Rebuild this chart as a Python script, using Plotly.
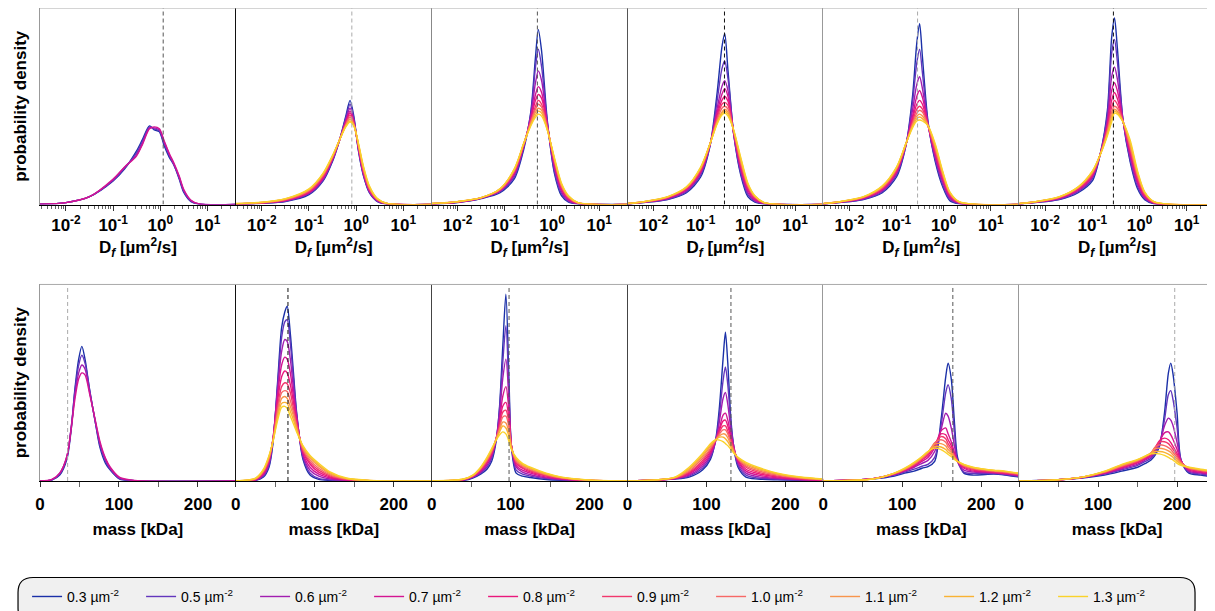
import plotly.graph_objects as go
from plotly.subplots import make_subplots

# ---------------- data ----------------
DENSITIES = ["0.3", "0.5", "0.6", "0.7", "0.8", "0.9", "1.0", "1.1", "1.2", "1.3"]
COLORS = ["#1b30a8", "#6336bd", "#a21db0", "#d41592", "#ea187c",
          "#f2376d", "#f76866", "#f8954c", "#f9b233", "#fad22a"]

TOP_TICKVALS = [0.01, 0.1, 1, 10]
TOP_TICKTEXT = ["10<sup>-2</sup>", "10<sup>-1</sup>", "10<sup>0</sup>", "10<sup>1</sup>"]
BOT_TICKVALS = [0, 100, 200]
BOT_TICKTEXT = ["0", "100", "200"]

# reference (dashed) positions
TOP_REF_D = [1.15, 0.81, 0.49, 0.32, 0.28, 0.28]
BOT_REF_MASS = [35, 66, 98, 131, 164, 197]

# ---- top row: log10(D) grids and densities (series order = DENSITIES) ----
T1_LOGD = [-2.55, -2, -1.5, -1, -0.76, -0.51, -0.38, -0.23, -0.13, -0.02, 0.08, 0.19, 0.29, 0.4, 0.5, 0.65, 0.82, 1.6]
T1_Y = [
    [0.2, 1, 4, 12, 18, 27, 33, 40, 38, 37, 30, 24, 20, 13, 6, 1.5, 0.2, 0],
    [0.2, 1, 4, 12.5, 18.5, 26, 32, 39.5, 38.5, 37.5, 31, 25, 20, 13.5, 6.5, 1.7, 0.2, 0],
    [0.2, 1, 4, 12.5, 19, 25, 31, 39, 39, 38, 32, 25.5, 20.5, 14, 7, 2, 0.3, 0],
    [0.2, 1, 4, 13, 19, 24.5, 30.5, 38.5, 39.5, 38.5, 32.5, 26, 21, 14.5, 7.5, 2.2, 0.3, 0],
]

T2_LOGD = [-2.55, -2, -1.5, -1, -0.7, -0.5, -0.35, -0.22, -0.13, -0.05, 0.05, 0.15, 0.28, 0.45, 0.65, 1.6]
T2_Y = [
    [0.2, 0.6, 1.5, 5, 12, 22, 33, 45, 53, 45, 27, 15, 6, 1.5, 0.3, 0],
    [0.25, 0.7, 1.7, 5.5, 12.5, 22.5, 33, 44, 51, 44, 27.5, 15.5, 6.3, 1.7, 0.35, 0],
    [0.3, 0.75, 1.9, 5.8, 13, 23, 33, 43, 49, 43, 28, 16, 6.7, 1.9, 0.4, 0],
    [0.3, 0.8, 2.1, 6.1, 13.5, 23.3, 33, 42.2, 47.5, 42.3, 28.5, 16.5, 7, 2.1, 0.4, 0],
    [0.35, 0.85, 2.2, 6.4, 14, 23.6, 33, 41.5, 46.5, 41.7, 29, 17, 7.4, 2.3, 0.45, 0],
    [0.35, 0.9, 2.4, 6.8, 14.5, 24, 33, 41, 45.5, 41.3, 29.5, 17.6, 7.8, 2.5, 0.5, 0],
    [0.4, 1, 2.5, 7.1, 15, 24.3, 33, 40.6, 44.5, 40.9, 30, 18.2, 8.3, 2.6, 0.5, 0],
    [0.4, 1.05, 2.7, 7.4, 15.3, 24.5, 33, 40.2, 43.5, 40.6, 30.3, 18.8, 8.7, 2.7, 0.55, 0],
    [0.45, 1.1, 2.8, 7.7, 15.7, 24.8, 33, 39.8, 42.5, 40.3, 30.6, 19.4, 9.1, 2.9, 0.6, 0],
    [0.5, 1.2, 3, 8, 16, 25, 33, 39.5, 42, 40, 31, 20, 9.5, 3, 0.6, 0],
]

T3_LOGD = [-2.55, -2.0, -1.5, -1.1, -0.8, -0.6, -0.45, -0.35, -0.29, -0.22, -0.1, 0.05, 0.2, 0.35, 0.55, 1.6]
T3_Y = [
    [0.2, 1, 3, 6, 13, 28, 47, 75, 89, 78, 43, 16, 4.5, 1.2, 0.3, 0],
    [0.3, 1.1, 3.2, 6.5, 14, 29, 46, 70, 79, 70, 42, 17, 5.5, 1.6, 0.4, 0],
    [0.3, 1.2, 3.3, 7, 15, 30, 45, 62, 68, 63, 41, 19, 6.5, 2, 0.5, 0],
    [0.4, 1.3, 3.3, 7, 16, 30, 44, 56, 60, 57, 40.5, 20, 7.5, 2.5, 0.6, 0],
    [0.4, 1.3, 3.4, 7.5, 16, 30, 43, 53, 56, 54, 40, 21, 8, 3, 0.7, 0],
    [0.4, 1.4, 3.4, 7.5, 17, 30.5, 42, 50, 53, 51, 39.5, 22, 9, 3.3, 0.8, 0],
    [0.4, 1.4, 3.5, 7.5, 17, 31, 42, 48.5, 51, 49.5, 39, 22.5, 9.5, 3.6, 0.8, 0],
    [0.5, 1.4, 3.5, 8, 17.5, 31, 41, 47, 49, 48, 38.5, 23, 10, 4, 0.9, 0],
    [0.5, 1.5, 3.5, 8, 18, 31, 40.5, 45.5, 47.5, 46.5, 38, 23.5, 10.5, 4.2, 1, 0],
    [0.5, 1.5, 3.5, 8, 18, 31, 40, 44.5, 46, 45, 38, 24, 11, 4.5, 1, 0],
]

T4_LOGD = [-2.55, -2.2, -1.7, -1.3, -1.0, -0.8, -0.65, -0.55, -0.49, -0.42, -0.3, -0.15, 0.0, 0.15, 0.35, 1.6]
T4_Y = [
    [0.3, 1, 2.5, 6, 14, 30, 57, 80, 87, 68, 36, 15, 4, 1.2, 0.3, 0],
    [0.3, 1.1, 2.7, 6.5, 15, 30, 53, 69, 73, 64, 36, 16, 5, 1.6, 0.4, 0],
    [0.3, 1.2, 3, 7, 16, 30.5, 49, 60, 63, 58, 36, 17.5, 6, 2, 0.5, 0],
    [0.4, 1.2, 3.2, 7.5, 16.5, 30.5, 47, 56, 59, 55, 36.5, 18.5, 7, 2.5, 0.6, 0],
    [0.4, 1.3, 3.4, 8, 17, 31, 45.5, 53, 55, 52.5, 37, 19.5, 8, 3, 0.7, 0],
    [0.4, 1.3, 3.6, 8.3, 17.5, 31, 44, 51, 52, 50.5, 37, 20.5, 8.8, 3.4, 0.8, 0],
    [0.4, 1.4, 3.7, 8.5, 18, 31, 43, 49, 50, 48.5, 37.5, 21.5, 9.5, 3.8, 0.85, 0],
    [0.5, 1.4, 3.8, 8.7, 18.5, 31, 42, 47, 48.5, 47, 37.5, 22.5, 10, 4.1, 0.9, 0],
    [0.5, 1.5, 3.9, 8.9, 18.7, 31, 41.5, 46.3, 47.5, 46, 37.8, 23.3, 10.5, 4.3, 0.95, 0],
    [0.5, 1.5, 4, 9, 19, 31, 41, 45.5, 46.5, 45, 38, 24, 11, 4.5, 1, 0],
]

T5_LOGD = [-2.55, -2.2, -1.7, -1.3, -1.0, -0.8, -0.66, -0.57, -0.51, -0.45, -0.33, -0.18, -0.02, 0.13, 0.33, 1.6]
T5_Y = [
    [0.3, 1, 2.5, 6, 14, 30, 55, 82, 92, 75, 42, 22, 9, 2, 0.4, 0],
    [0.3, 1.1, 2.7, 6.5, 15, 30, 52, 72, 79, 67, 41, 23, 10, 2.6, 0.5, 0],
    [0.3, 1.2, 3, 7, 16, 30.5, 48, 61, 65, 59, 40.5, 24, 11.5, 3.3, 0.7, 0],
    [0.4, 1.2, 3.2, 7.5, 16.5, 30.5, 45, 55, 58, 54.5, 40.5, 25.5, 12.5, 4, 0.8, 0],
    [0.4, 1.3, 3.4, 8, 17, 30.5, 43.5, 51, 53, 51, 40, 26.5, 13.5, 4.5, 0.9, 0],
    [0.4, 1.3, 3.6, 8.3, 17.5, 30.5, 42, 48.5, 50, 48.5, 40, 27.5, 14.3, 5, 1, 0],
    [0.4, 1.4, 3.7, 8.6, 18, 30.8, 41, 46.5, 48, 47, 40, 28.5, 15, 5.5, 1.1, 0],
    [0.5, 1.4, 3.8, 9, 18.5, 31, 40.3, 45, 46, 45, 40, 29.5, 15.8, 5.9, 1.3, 0],
    [0.5, 1.5, 3.9, 9.3, 18.8, 31, 39.6, 43.7, 44.5, 43.7, 40, 30.3, 16.4, 6.2, 1.4, 0],
    [0.5, 1.5, 4, 9.5, 19, 31, 39, 42.5, 43, 42.5, 40, 31, 17, 6.5, 1.5, 0],
]

T6_LOGD = [-2.55, -2.2, -1.7, -1.3, -1.0, -0.82, -0.68, -0.59, -0.53, -0.47, -0.35, -0.2, -0.04, 0.11, 0.31, 1.6]
T6_Y = [
    [0.3, 1, 2.5, 6, 12, 27, 48, 85, 95, 80, 43, 22, 8, 2.5, 0.4, 0],
    [0.3, 1.1, 2.7, 6.5, 13, 27, 46, 77, 84, 73, 43, 23, 9, 3, 0.5, 0],
    [0.3, 1.2, 3, 7, 14, 26.5, 43, 65, 70, 64, 43, 24.5, 10.5, 3.5, 0.7, 0],
    [0.4, 1.2, 3.2, 7.5, 14.5, 26.5, 41, 58, 62, 58, 42.5, 26, 11.5, 4, 0.8, 0],
    [0.4, 1.3, 3.4, 8, 15, 26.5, 39.5, 53, 57, 54, 42.5, 27.5, 12.5, 4.5, 0.9, 0],
    [0.4, 1.3, 3.6, 8.3, 15.5, 26.5, 38.5, 49.5, 53, 51, 42.5, 28.5, 13.5, 5, 1, 0],
    [0.4, 1.4, 3.7, 8.5, 16, 26.3, 37.5, 47, 50, 49, 42.3, 29.5, 14.5, 5.5, 1.1, 0],
    [0.5, 1.4, 3.8, 8.7, 16.5, 26.2, 36.5, 45, 48.5, 47.5, 42.2, 30.7, 15.3, 5.9, 1.3, 0],
    [0.5, 1.5, 3.9, 8.9, 16.8, 26.1, 35.7, 43.5, 47.5, 46.7, 42.1, 31.8, 16.2, 6.2, 1.4, 0],
    [0.5, 1.5, 4, 9, 17, 26, 35, 42, 46.5, 46, 42, 33, 17, 6.5, 1.5, 0],
]

# ---- bottom row: mass grids [kDa] and densities ----
B1_MASS = [0, 15, 25, 34, 40, 44, 49, 53, 57, 63, 70, 76, 83, 89, 101, 120, 248]
B1_Y = [
    [0, 0.5, 3, 11, 28, 46, 62, 68.5, 62, 46, 30, 17, 9, 5.6, 1, 0.2, 0],
    [0, 0.6, 3.5, 12, 29, 45, 59, 64, 60, 46, 30, 18, 10, 6, 1.2, 0.2, 0],
    [0, 0.7, 4, 12.5, 29, 43, 55, 59, 57, 45, 30.5, 19, 11, 6.5, 1.5, 0.2, 0],
    [0, 0.8, 4, 12.5, 28, 41, 52, 55, 54, 44, 31, 20, 11.5, 7, 1.8, 0.3, 0],
]

B2_MASS = [0, 25, 35, 42, 47, 53, 58, 62, 65, 69, 73, 77, 85, 94, 105, 120, 140, 170, 248]
B2_Y = [
    [0, 0.3, 2, 7, 19, 51, 78, 86, 89, 75, 55, 35, 11, 3, 0.8, 0.3, 0.1, 0, 0],
    [0, 0.4, 2.5, 8, 20, 49, 73, 81, 82, 70, 52, 34, 12, 4, 1.3, 0.5, 0.2, 0, 0],
    [0, 0.5, 3, 9, 21, 47, 66, 72, 71, 62, 47, 33, 13, 5.5, 2.5, 1, 0.3, 0.05, 0],
    [0, 0.6, 3.5, 10, 21.5, 44, 59, 63, 62, 55, 43, 32, 14, 7, 3.5, 1.5, 0.5, 0.1, 0],
    [0, 0.8, 4, 10.5, 21, 41, 53, 56, 55, 49, 40, 30, 15, 8.5, 4.5, 2, 0.7, 0.1, 0],
    [0, 0.9, 4.5, 11, 21, 38, 48, 50, 49.5, 45, 37, 29, 15.5, 9.5, 5.5, 2.5, 0.8, 0.15, 0],
    [0, 1, 5, 11.5, 20.5, 36, 45, 46, 45.5, 41, 35, 28, 16, 10.5, 6.5, 3, 1, 0.2, 0],
    [0, 1.2, 5.3, 12, 20.5, 34, 42, 43, 42, 38, 33, 27, 17, 11.5, 7.5, 3.5, 1.2, 0.2, 0],
    [0, 1.3, 5.6, 12.5, 20, 32.5, 39.5, 40, 39.5, 35.5, 31, 26, 17.5, 12.5, 8.2, 4, 1.3, 0.25, 0],
    [0, 1.5, 6, 13, 20, 31, 37.5, 38, 37, 33, 29, 25, 18, 13, 9, 4.5, 1.5, 0.3, 0],
]

B3_MASS = [0, 40, 52, 62, 70, 76, 82, 86, 90, 94, 98, 101, 107, 115, 125, 145, 165, 200, 248]
B3_Y = [
    [0, 0.3, 1.5, 3.5, 6, 10, 21, 38, 68, 95, 50, 17.5, 4, 2.5, 1.8, 0.8, 0.4, 0.1, 0],
    [0, 0.4, 1.8, 4, 7, 11.5, 22, 37, 60, 79, 44, 18, 5.5, 3.5, 2.5, 1.2, 0.6, 0.15, 0],
    [0, 0.5, 2, 4.5, 8, 12.5, 22, 34, 52, 62, 40, 18, 7, 4.5, 3.2, 1.6, 0.8, 0.2, 0],
    [0, 0.6, 2.2, 5, 9, 13.5, 22, 31, 43, 48, 35, 18, 8, 5.5, 4, 2, 1, 0.25, 0],
    [0, 0.7, 2.4, 5.5, 9.5, 14, 22, 29, 38, 40, 31.5, 18, 9, 6.5, 4.6, 2.5, 1.2, 0.3, 0],
    [0, 0.75, 2.5, 5.8, 10, 14.5, 22, 28, 35, 36, 29, 18, 9.5, 7, 5.2, 2.8, 1.4, 0.35, 0],
    [0, 0.8, 2.6, 6.2, 10.5, 15, 22, 27, 32.5, 33, 27, 17.5, 10, 7.5, 5.7, 3.1, 1.5, 0.4, 0],
    [0, 0.85, 2.7, 6.5, 11, 15.5, 21.5, 26, 30, 29.5, 24.5, 17, 10.7, 8, 6.2, 3.4, 1.7, 0.4, 0],
    [0, 0.9, 2.8, 6.8, 11.5, 16, 21.3, 25, 28, 27, 22.5, 16.5, 11.3, 8.5, 6.6, 3.7, 1.8, 0.45, 0],
    [0, 1, 3, 7, 12, 16.5, 21, 23.5, 25, 24, 20, 16, 12, 9, 7, 4, 2, 0.5, 0],
]

B4_MASS = [0, 60, 78, 95, 105, 112, 116.5, 121, 124, 127, 131, 135, 140, 150, 165, 190, 220, 248]
B4_Y = [
    [0, 1, 2, 5.6, 11, 22, 38, 62, 75.7, 60, 31, 16, 7, 2, 1, 0.6, 0.4, 0.3],
    [0, 1.1, 2.5, 6.5, 12, 21, 34, 51, 58, 49, 29, 16.5, 8, 3, 1.5, 0.9, 0.5, 0.3],
    [0, 1.2, 3, 7.5, 13, 21, 30.5, 42, 45, 39, 26, 17, 9, 4, 2.2, 1.2, 0.6, 0.35],
    [0, 1.3, 3.5, 8.5, 14, 21, 27, 33.5, 34.5, 31, 23, 16, 10, 5, 3, 1.6, 0.8, 0.4],
    [0, 1.4, 4, 9.5, 15, 21, 26, 30.5, 31, 28, 22, 16, 10.5, 6, 3.8, 2, 1, 0.5],
    [0, 1.5, 4.5, 10.5, 16, 21, 25, 28, 28, 25.5, 20.5, 15.5, 11, 7, 4.5, 2.5, 1.2, 0.6],
    [0, 1.6, 5, 11.5, 16.5, 21, 24, 26, 26, 24, 19.5, 15, 11.2, 7.7, 5.2, 3, 1.4, 0.7],
    [0, 1.7, 5.7, 12.5, 17.5, 21, 23, 24, 23.7, 22, 18.3, 14.7, 11.5, 8.3, 5.9, 3.4, 1.6, 0.8],
    [0, 1.8, 6.3, 13.3, 18.3, 21.2, 22.3, 22.3, 21.5, 20, 17.2, 14.3, 11.8, 8.9, 6.5, 3.7, 1.8, 0.9],
    [0, 2, 7, 14, 19, 21, 20.8, 20, 19, 18, 16, 14, 12, 9.5, 7, 4, 2, 1],
]

B5_MASS = [0, 63, 90, 103, 115, 125, 132.5, 141, 149, 155, 158, 162, 166, 170, 178, 190, 205, 216, 230, 248]
B5_Y = [
    [0, 1, 2.5, 4, 5, 6.5, 7.3, 10, 31, 53, 60, 52, 30, 12, 4, 3, 3.3, 3.5, 3, 2],
    [0, 1.1, 3, 4.5, 6, 7.5, 8.5, 12, 28, 45, 49, 42, 25, 10, 4.5, 3.8, 3.8, 3.8, 3.3, 2.3],
    [0, 1.2, 3.3, 5, 7, 9, 10.5, 15, 26, 34.5, 33, 27, 18, 10, 5.5, 4.5, 4.3, 4, 3.5, 2.6],
    [0, 1.2, 3.5, 5.3, 7.5, 10, 12, 17, 25.5, 27, 24, 20, 14.5, 10, 6.5, 5, 4.6, 4.3, 3.8, 2.9],
    [0, 1.2, 3.6, 5.5, 8, 10.7, 13, 18, 24, 23.5, 21, 18, 13.5, 10, 7, 5.5, 4.9, 4.5, 4, 3.1],
    [0, 1.2, 3.7, 5.7, 8.3, 11.2, 13.8, 19, 22.6, 21.5, 19, 16.5, 13, 10, 7.4, 5.9, 5.2, 4.7, 4.2, 3.3],
    [0, 1.1, 3.8, 5.9, 8.6, 11.6, 14.3, 19.5, 21, 19.7, 17.5, 15.5, 12.5, 10, 7.7, 6.3, 5.5, 5, 4.5, 3.5],
    [0, 1.1, 3.9, 6.1, 8.9, 12, 14.6, 18.8, 19, 17.8, 16, 14.5, 12, 10, 8, 6.6, 5.7, 5.2, 4.7, 3.7],
    [0, 1, 4, 6.3, 9.2, 12.3, 14.8, 17.5, 17.3, 16, 14.7, 13.5, 11.5, 10, 8.3, 6.8, 5.9, 5.4, 4.9, 3.9],
    [0, 1, 4, 6.5, 9.5, 12.5, 15, 16.7, 16, 14.5, 13.5, 12.5, 11, 10, 8.5, 7, 6, 5.5, 5, 4],
]

B6_MASS = [0, 44, 80, 108, 130, 150, 160, 167, 172, 177.6, 184, 189, 192, 195, 200, 205, 215, 230, 248]
B6_Y = [
    [0, 0.5, 1.5, 3, 5, 7, 9, 10.7, 13, 17.5, 34.5, 55, 60, 54, 34.5, 10.7, 4, 3, 2],
    [0, 0.5, 1.7, 3.5, 5.7, 8, 10, 11.5, 14, 18, 31, 44, 46, 41, 27, 10.5, 4.5, 3.5, 2.5],
    [0, 0.5, 1.8, 3.8, 6.2, 8.6, 10.7, 12.3, 15, 19, 28, 32, 31, 28, 19.5, 10.5, 5, 4, 3],
    [0, 0.5, 1.8, 4, 6.6, 9.2, 11.3, 13, 16, 20, 24.5, 25, 23.5, 21, 16, 10.3, 5.5, 4.4, 3.4],
    [0, 0.5, 1.9, 4.2, 7, 9.6, 11.8, 13.6, 16.6, 20.5, 21.8, 21, 19.5, 17.5, 14, 10, 6, 4.8, 3.8],
    [0, 0.5, 1.9, 4.4, 7.3, 10, 12.1, 14, 17, 19.8, 20, 19, 17.6, 16, 13, 9.7, 6.3, 5.1, 4.1],
    [0, 0.5, 1.9, 4.5, 7.6, 10.3, 12.3, 14.2, 17.2, 18.4, 18, 17, 16, 14.5, 12, 9.3, 6.5, 5.4, 4.4],
    [0, 0.5, 2, 4.7, 7.9, 10.6, 12.5, 14.3, 16.5, 16.7, 16.2, 15.3, 14.5, 13.2, 11, 9, 6.7, 5.6, 4.6],
    [0, 0.5, 2, 4.8, 8.2, 10.8, 12.7, 14.1, 15, 15, 14.6, 13.7, 12.9, 12, 10, 8.5, 6.9, 5.8, 4.8],
    [0, 0.5, 2, 5, 8.5, 11, 12.8, 13.8, 14, 13.8, 13, 12, 11.3, 10.6, 9, 8, 7, 6, 5],
]

# ---------------- styling ----------------
FONT = "Liberation Sans, Arial, sans-serif"
TOP_DASH_COLORS = ["#555555", "#aaaaaa", "#555555", "#111111", "#aaaaaa", "#111111"]
BOT_DASH_COLORS = ["#aaaaaa", "#111111", "#555555", "#555555", "#555555", "#aaaaaa"]
TOP_LEFT_LINE = ["#999999", "#111111", "#888888", "#555555", "#999999", "#888888"]
BOT_LEFT_LINE = ["#999999", "#111111", "#444444", "#444444", "#999999", "#999999"]

top_panels = [(T1_LOGD, T1_Y), (T2_LOGD, T2_Y), (T3_LOGD, T3_Y),
              (T4_LOGD, T4_Y), (T5_LOGD, T5_Y), (T6_LOGD, T6_Y)]
bot_panels = [(B1_MASS, B1_Y), (B2_MASS, B2_Y), (B3_MASS, B3_Y),
              (B4_MASS, B4_Y), (B5_MASS, B5_Y), (B6_MASS, B6_Y)]

VSP = 0.169
fig = make_subplots(rows=2, cols=6, horizontal_spacing=0, vertical_spacing=VSP)

LW = 1.4

for c, (logd, ys) in enumerate(top_panels, start=1):
    xs = [10 ** v for v in logd]
    for i, y in enumerate(ys):
        fig.add_trace(go.Scatter(
            x=xs, y=y, mode="lines",
            line=dict(color=COLORS[i], width=LW, shape="spline", smoothing=0.8),
            name=DENSITIES[i] + " µm<sup>-2</sup>", legendgroup=DENSITIES[i],
            showlegend=(c == 2), hoverinfo="skip"), row=1, col=c)
    fig.add_trace(go.Scatter(
        x=[TOP_REF_D[c - 1], TOP_REF_D[c - 1]], y=[0, 100], mode="lines",
        line=dict(color=TOP_DASH_COLORS[c - 1], width=1, dash="4px,3px"),
        showlegend=False, hoverinfo="skip"), row=1, col=c)

for c, (mass, ys) in enumerate(bot_panels, start=1):
    for i, y in enumerate(ys):
        fig.add_trace(go.Scatter(
            x=mass, y=y, mode="lines",
            line=dict(color=COLORS[i], width=LW, shape="spline", smoothing=0.8),
            name=DENSITIES[i] + " µm<sup>-2</sup>", legendgroup=DENSITIES[i],
            showlegend=False, hoverinfo="skip"), row=2, col=c)
    fig.add_trace(go.Scatter(
        x=[BOT_REF_MASS[c - 1], BOT_REF_MASS[c - 1]], y=[0, 100], mode="lines",
        line=dict(color=BOT_DASH_COLORS[c - 1], width=1, dash="4px,3px"),
        showlegend=False, hoverinfo="skip"), row=2, col=c)

tickfont = dict(family=FONT, size=17, color="black", weight="bold")
titlefont = dict(family=FONT, size=17, color="black", weight="bold")

for c in range(1, 7):
    fig.update_xaxes(
        type="log", range=[-2.55, 1.6], tickmode="array",
        tickvals=TOP_TICKVALS, ticktext=TOP_TICKTEXT,
        ticks="outside", ticklen=5, tickcolor="#333", tickwidth=1,
        minor=dict(ticks="outside", ticklen=3, tickcolor="#666", dtick="D1", showgrid=False),
        showline=True, linecolor="black", linewidth=1, showgrid=False, zeroline=False,
        tickfont=tickfont, automargin=False,
        title=dict(text="D<sub><i>f</i></sub> [µm<sup>2</sup>/s]", font=titlefont, standoff=6),
        row=1, col=c)
    fig.update_xaxes(
        range=[0, 248], tickmode="array", tickvals=BOT_TICKVALS, ticktext=BOT_TICKTEXT,
        ticks="outside", ticklen=5, tickcolor="#333", tickwidth=1, ticklabelstandoff=3,
        minor=dict(ticks="outside", ticklen=5, tickcolor="#666", dtick=50, tick0=0, showgrid=False),
        showline=True, linecolor="black", linewidth=1, showgrid=False, zeroline=False,
        tickfont=tickfont, automargin=False,
        title=dict(text="mass [kDa]", font=titlefont, standoff=9),
        row=2, col=c)
    fig.update_yaxes(range=[0, 100], showticklabels=False, ticks="", showgrid=False,
                     zeroline=False, showline=True, linecolor=TOP_LEFT_LINE[c - 1],
                     linewidth=1, automargin=False, row=1, col=c)
    fig.update_yaxes(range=[0, 100], showticklabels=False, ticks="", showgrid=False,
                     zeroline=False, showline=True, linecolor=BOT_LEFT_LINE[c - 1],
                     linewidth=1, automargin=False, row=2, col=c)

ytitlefont = dict(family=FONT, size=17, color="black", weight="bold")
fig.update_yaxes(title=dict(text="probability density", font=ytitlefont, standoff=8), row=1, col=1)
fig.update_yaxes(title=dict(text="probability density", font=ytitlefont, standoff=8), row=2, col=1)

# frame lines at top of each row and rounded legend box
bot_top = (1 - VSP) / 2
shapes = [
    dict(type="line", xref="paper", yref="paper", x0=0, x1=1, y0=1, y1=1,
         line=dict(color="#aaaaaa", width=1)),
    dict(type="line", xref="paper", yref="paper", x0=0, x1=1, y0=bot_top, y1=bot_top,
         line=dict(color="#aaaaaa", width=1)),
]
x0, x1, y0, y1 = -0.0187, 0.983, -0.204, -0.30
rx, ry = 0.0128, 0.0317
path = (f"M {x0+rx},{y0} L {x1-rx},{y0} Q {x1},{y0} {x1},{y0-ry} "
        f"L {x1},{y1+ry} Q {x1},{y1} {x1-rx},{y1} L {x0+rx},{y1} "
        f"Q {x0},{y1} {x0},{y1+ry} L {x0},{y0-ry} Q {x0},{y0} {x0+rx},{y0} Z")
shapes.append(dict(type="path", xref="paper", yref="paper", path=path,
                   fillcolor="#f0f0f0", line=dict(color="black", width=1.2), layer="below"))

# page body adds an 8px margin, so the figure is 8px smaller than the window
fig.update_layout(
    width=1207, height=603,
    margin=dict(l=32, r=0, t=0, b=130, autoexpand=False),
    paper_bgcolor="white", plot_bgcolor="white",
    font=dict(family=FONT, size=14, color="black"),
    shapes=shapes,
    showlegend=True,
    legend=dict(orientation="h", x=-0.011, xanchor="left", y=-0.245, yanchor="middle",
                bgcolor="rgba(0,0,0,0)", font=dict(family=FONT, size=14, color="black"),
                entrywidth=69, entrywidthmode="pixels", itemwidth=30,
                traceorder="normal"),
    hovermode=False,
)

fig.write_html("out.html", config={"displayModeBar": False})
